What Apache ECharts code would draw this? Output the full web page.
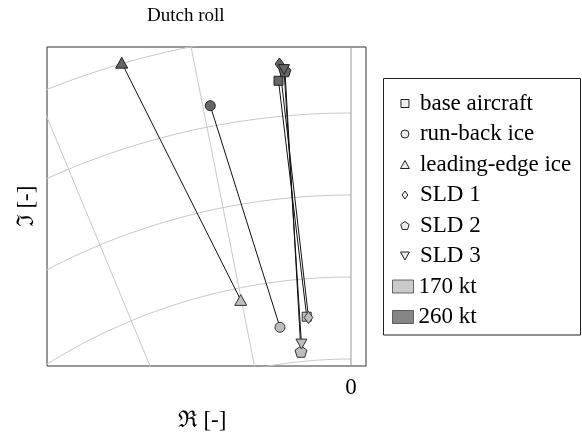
<!DOCTYPE html>
<html>
<head>
<meta charset="utf-8">
<script src="https://cdn.jsdelivr.net/npm/echarts@6/dist/echarts.min.js"></script>
<style>
    html, body { margin: 0; padding: 0; background: #fff; }
    #chart { width: 582px; height: 439px; }
</style>
</head>
<body>
<div id="chart"></div>
<script type="text/javascript">
    // icing configurations (one line per configuration, 170 kt -> 260 kt)
    var configs = ['base aircraft', 'run-back ice', 'leading-edge ice', 'SLD 1', 'SLD 2', 'SLD 3'];
    var speeds = ['170 kt', '260 kt'];
    // real / imaginary part of the dutch roll eigenvalue
    var re170 = [-0.540, -0.866, -1.345, -0.518, -0.610, -0.604];
    var im170 = [6.516, 6.387, 6.720, 6.506, 6.091, 6.183];
    var re260 = [-0.884, -1.716, -2.796, -0.872, -0.805, -0.817];
    var im260 = [9.393, 9.089, 9.613, 9.598, 9.512, 9.530];
    // background grid: circles of constant frequency, lines of constant damping
    var freqCircles = [6, 7, 8, 9, 10];
    var dampAngles = [11.25, 22.5, 33.75];
    var xTicks = [0];

    var serif = "'Liberation Serif', 'DejaVu Serif', serif";
    var speedColor = ['#bdbdbd', '#666666'];
    var shapes = [
        'path://M0,0L8,0L8,8L0,8Z',
        'path://M0,4A4,4,0,1,1,8,4A4,4,0,1,1,0,4Z',
        'path://M5,0L10,9L0,9Z',
        'path://M4,0L8,5.5L4,11L0,5.5Z',
        'path://M5,0L10,3.6L8.1,9.5L1.9,9.5L0,3.6Z',
        'path://M0,0L10,0L5,9Z'
    ];
    var sizes = [9, 10, 12, 12, 12, 11];

    var xMin = -3.707, xMax = 0.183, yMin = 5.915, yMax = 9.805;

    var series = [];

    // grid lines
    freqCircles.forEach(function (r) {
        var pts = [];
        for (var a = 0; a <= 90; a += 1) {
            var t = a * Math.PI / 180;
            pts.push([-r * Math.sin(t), r * Math.cos(t)]);
        }
        series.push({type: 'line', data: pts, symbol: 'none', silent: true, z: 1,
            lineStyle: {color: '#c8c8c8', width: 1}});
    });
    dampAngles.forEach(function (d) {
        var t = d * Math.PI / 180;
        series.push({type: 'line', data: [[0, 0], [-15 * Math.sin(t), 15 * Math.cos(t)]],
            symbol: 'none', silent: true, z: 1, lineStyle: {color: '#c8c8c8', width: 1}});
    });
    // zero line
    series.push({type: 'line', data: [[0, 0], [0, 20]], symbol: 'none', silent: true, z: 1,
        lineStyle: {color: '#999', width: 1}});

    for (var i = 0; i < configs.length; i++) {
        series.push({
            name: configs[i],
            type: 'line',
            symbol: shapes[i],
            symbolSize: sizes[i],
            symbolKeepAspect: true,
            showAllSymbol: true,
            z: 3,
            lineStyle: {color: '#111', width: 1},
            data: [
                {value: [re170[i], im170[i]], itemStyle: {color: speedColor[0], borderColor: '#333', borderWidth: 1}},
                {value: [re260[i], im260[i]], itemStyle: {color: speedColor[1], borderColor: '#222', borderWidth: 1}}
            ]
        });
    }
    // speed entries for the legend only
    for (var k = 0; k < speeds.length; k++) {
        series.push({name: speeds[k], type: 'scatter', data: [],
            itemStyle: {color: speedColor[k], borderColor: '#444', borderWidth: 1}});
    }

    var myChart = echarts.init(document.getElementById('chart'));
    var option = {
        animation: false,
        title: {
            text: 'Dutch roll',
            left: 142, top: 2,
            textStyle: {fontFamily: serif, fontSize: 19, fontWeight: 'normal', color: '#000'}
        },
        grid: {
            left: 47, top: 47, width: 319, height: 319,
            show: true, borderColor: '#333', borderWidth: 1, backgroundColor: 'transparent'
        },
        xAxis: {
            type: 'value', min: xMin, max: xMax,
            axisLine: {show: false}, axisTick: {show: false}, splitLine: {show: false},
            axisLabel: {customValues: xTicks, margin: 10, fontFamily: serif, fontSize: 23, color: '#000'},
            name: 'ℜ [-]', nameLocation: 'middle', nameGap: 43,
            nameTextStyle: {fontFamily: serif, fontSize: 23, color: '#000', padding: [0, 9, 0, 0]}
        },
        yAxis: {
            type: 'value', min: yMin, max: yMax,
            axisLine: {show: false}, axisTick: {show: false}, splitLine: {show: false},
            axisLabel: {show: false},
            name: 'ℑ [-]', nameLocation: 'middle', nameGap: 9,
            nameTextStyle: {fontFamily: serif, fontSize: 23, color: '#000'}
        },
        graphic: [{
            type: 'rect', z: 0,
            shape: {x: 383.5, y: 78.5, width: 197, height: 256.5},
            style: {fill: '#fff', stroke: '#222', lineWidth: 1}
        }],
        legend: [{
            orient: 'vertical', left: 395, top: 87, itemWidth: 20, itemHeight: 8, itemGap: 7.5,
            selectedMode: false, symbolKeepAspect: true,
            textStyle: {fontFamily: serif, fontSize: 23, color: '#000'},
            data: configs.map(function (c, j) {
                return {name: c, icon: shapes[j],
                    itemStyle: {color: '#eee', borderColor: '#222', borderWidth: 1}};
            })
        }, {
            orient: 'vertical', left: 387, top: 270, itemWidth: 21, itemHeight: 13, itemGap: 7.5,
            selectedMode: false,
            textStyle: {fontFamily: serif, fontSize: 23, color: '#000'},
            data: speeds.map(function (s, j) {
                return {name: s, icon: 'rect',
                    itemStyle: {color: speedColor[j], borderColor: '#444', borderWidth: 1}};
            })
        }],
        series: series
    };
    myChart.setOption(option);
</script>
</body>
</html>
